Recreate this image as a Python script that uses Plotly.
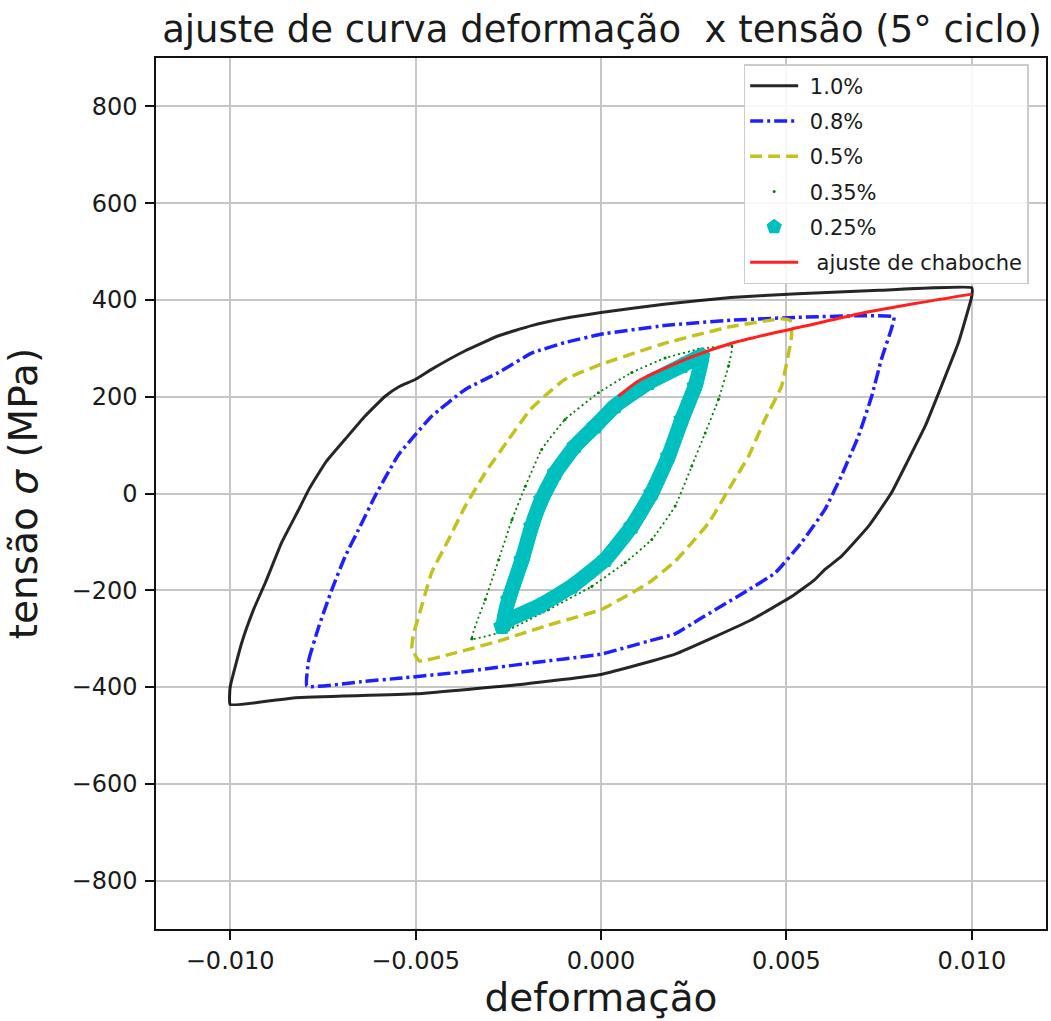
import plotly.graph_objects as go

# ---- data ----
# 1.0 % loop (black)
x_10 = [-0.0100, -0.0100, -0.00969, -0.00937, -0.00905, -0.00861, -0.00815, -0.00788, -0.00743,
        -0.00690, -0.00636, -0.00582, -0.00546, -0.00500, -0.00456, -0.00366, -0.00276, -0.00187,
        -0.00097, 0.0, 0.0017, 0.0035, 0.0053, 0.0075, 0.0100, 0.0100, 0.00964, 0.00918, 0.00874,
        0.00829, 0.00783, 0.00721, 0.00648, 0.00604, 0.00575, 0.00514, 0.00403, 0.0020, 0.0,
        -0.0021, -0.0050, -0.00824, -0.0100]
y_10 = [-436, -400, -309, -240, -184, -101, -33, 8, 64,
        112, 160, 201, 220, 236, 257, 295, 326, 347,
        362, 374, 391, 405, 413, 420, 425, 408, 312, 222, 139,
        70, 1, -68, -130, -157, -179, -213, -262, -332, -374,
        -394, -414, -422, -436]

# 0.8 % loop (blue)
x_08 = [-0.00793, -0.00788, -0.00761, -0.00726, -0.00690, -0.00654, -0.00609, -0.00546, -0.00456,
        -0.00366, -0.00276, -0.00187, -0.00097, 0.0, 0.0017, 0.0035, 0.0053, 0.0079, 0.00783,
        0.00756, 0.0073, 0.00694, 0.00648, 0.00604, 0.00541, 0.0047, 0.00398, 0.00263, 0.0020,
        0.00128, 0.0, -0.00187, -0.00366, -0.00546, -0.00636, -0.00793]
y_08 = [-398, -344, -275, -199, -130, -75, -5, 80, 160,
        215, 250, 290, 312, 329, 347, 358, 364, 365, 340,
        277, 201, 118, 36, -33, -101, -164, -199, -261, -290,
        -305, -332, -350, -368, -382, -388, -398]

# 0.5 % loop (yellow)
x_05 = [-0.0049, -0.0051, -0.00505, -0.00487, -0.00457, -0.00411, -0.00366, -0.00312, -0.00249,
        -0.0019, -0.00142, -0.00097, 0.0, 0.0017, 0.0035, 0.00487, 0.0051, 0.00514, 0.00487,
        0.00442, 0.00398, 0.00344, 0.0029, 0.0020, 0.00128, 0.0, -0.00142, -0.00276, -0.00411,
        -0.0049]
y_05 = [-346, -320, -288, -242, -164, -95, -26, 43, 112,
        174, 208, 236, 267, 310, 345, 361, 358, 326, 222,
        153, 77, 8, -61, -140, -185, -240, -272, -305, -333,
        -346]

# 0.35 % loop (green)
x_035 = [-0.00348, -0.00312, -0.00276, -0.0024, -0.00204, -0.0016, -0.00097, -0.00007, 0.00083,
         0.00173, 0.00263, 0.00353, 0.00344, 0.00317, 0.00281, 0.00245, 0.0020, 0.00137, 0.00065,
         -0.00025, -0.00142, -0.0025, -0.00348]
y_035 = [-300, -219, -137, -54, 15, 91, 153, 208, 250,
         280, 298, 305, 264, 195, 125, 57, -26, -95, -143,
         -192, -240, -282, -300]

# 0.25 % loop (cyan)
x_025 = [-0.00267, -0.00249, -0.00213, -0.00187, -0.0016, -0.00123, -0.0007, -0.00016, 0.00038,
         0.00128, 0.00218, 0.00272, 0.00254, 0.00218, 0.00182, 0.00137, 0.00083, 0.00011, -0.00079,
         -0.00168, -0.00249, -0.00267]
y_025 = [-275, -219, -137, -68, -12, 43, 98, 139, 181,
         229, 264, 284, 222, 153, 77, 1, -68, -137, -192,
         -233, -261, -275]

# Chaboche fit (red)
x_fit = [0.00047, 0.0010, 0.0017, 0.0025, 0.0035, 0.0045, 0.0055, 0.0070, 0.0085, 0.0100]
y_fit = [201, 232, 258, 284, 310, 329, 346, 372, 393, 412]

x_tickvals = [-0.010, -0.005, 0.000, 0.005, 0.010]
x_ticktext = ["\u22120.010", "\u22120.005", "0.000", "0.005", "0.010"]
y_tickvals = [-800, -600, -400, -200, 0, 200, 400, 600, 800]
y_ticktext = ["\u2212800", "\u2212600", "\u2212400", "\u2212200", "0", "200", "400", "600", "800"]

FONT = "DejaVu Sans"
TXT = "#1a1a1a"
SM = 0.35

fig = go.Figure()
fig.add_trace(go.Scatter(x=x_10, y=y_10, mode="lines", name="\u00a01.0%", legendgroup="g1",
                         line=dict(color="rgba(0,0,0,0.85)", width=3, shape="spline", smoothing=SM)))
fig.add_trace(go.Scatter(x=x_08, y=y_08, mode="lines", name="\u00a00.8%", legendgroup="g2",
                         line=dict(color="#2020ff", width=3.5, dash="13px,4px,3px,4px",
                                   shape="spline", smoothing=SM)))
fig.add_trace(go.Scatter(x=x_05, y=y_05, mode="lines", name="\u00a00.5%", legendgroup="g3",
                         line=dict(color="#c2c21e", width=3.5, dash="12px,6px",
                                   shape="spline", smoothing=SM)))
fig.add_trace(go.Scatter(x=x_035, y=y_035, mode="lines", name="\u00a00.35%", legendgroup="g4",
                         showlegend=False, line=dict(color="#008000", width=1.8, dash="2px,3px",
                                                     shape="spline", smoothing=SM)))
fig.add_trace(go.Scatter(x=x_035, y=y_035, mode="markers", name="\u00a00.35%", legendgroup="g4",
                         marker=dict(color="#008000", size=3)))
fig.add_trace(go.Scatter(x=x_025, y=y_025, mode="lines", name="\u00a00.25%", legendgroup="g5",
                         showlegend=False, line=dict(color="#00bfbf", width=15, shape="spline",
                                                     smoothing=SM)))
fig.add_trace(go.Scatter(x=x_025, y=y_025, mode="markers", name="\u00a00.25%", legendgroup="g5",
                         marker=dict(color="#00bfbf", size=18, symbol="pentagon")))
fig.add_trace(go.Scatter(x=x_fit, y=y_fit, mode="lines", name="\u00a0\u00a0ajuste de chaboche",
                         legendgroup="g6", line=dict(color="#ff2020", width=3, shape="spline",
                                                     smoothing=0.8)))

axis_common = dict(
    showline=True, linecolor="#111", linewidth=1.5, mirror=True,
    showgrid=True, gridcolor="#c6c6c6", gridwidth=1.8, zeroline=False,
    ticks="outside", ticklen=9, tickwidth=1.5, tickcolor="#111",
    tickfont=dict(family=FONT, size=24, color=TXT),
)

fig.update_xaxes(range=[-0.012, 0.012], tickvals=x_tickvals, ticktext=x_ticktext,
                 title=dict(text="deformação", font=dict(family=FONT, size=39, color=TXT), standoff=10),
                 **axis_common)
fig.update_yaxes(range=[-900, 900], tickvals=y_tickvals, ticktext=y_ticktext, ticklabelstandoff=3,
                 title=dict(text="tensão <i>σ</i> (MPa)", font=dict(family=FONT, size=39, color=TXT), standoff=22),
                 **axis_common)

fig.update_layout(
    width=1051, height=1021,
    margin=dict(l=156, r=3, t=58, b=92),
    paper_bgcolor="white", plot_bgcolor="white",
    font=dict(family=FONT, color=TXT),
    title=dict(text="ajuste de curva deformação \u00a0x tensão (5° ciclo)",
               font=dict(family=FONT, size=37, color=TXT),
               x=(156 + 1048) / 2 / 1051, xanchor="center",
               y=1 - 29 / 1021, yanchor="middle", yref="container"),
    legend=dict(x=(745 - 156) / 892, xanchor="left", y=(929 - 64) / 871, yanchor="top",
                bgcolor="rgba(255,255,255,0.85)", bordercolor="#cccccc", borderwidth=1.5,
                font=dict(family=FONT, size=21, color=TXT),
                tracegroupgap=5, itemwidth=48),
)

fig.write_html("out.html")
